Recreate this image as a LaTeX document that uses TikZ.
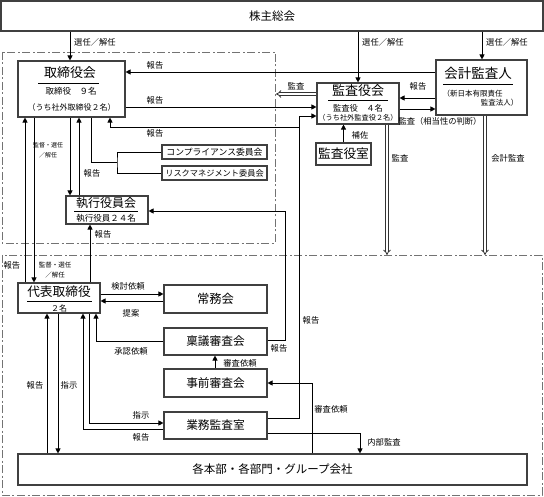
\documentclass[tikz,border=0pt]{standalone}
\usepackage{fontspec}
\setmainfont{Noto Sans CJK JP}
\usetikzlibrary{arrows.meta}
\newcommand\fsz[1]{\fontsize{#1}{#1}\selectfont}

\begin{document}
\begin{tikzpicture}[x=1pt,y=-1pt]
	\tikzset{box/.style={draw=black!75,line width=1.1pt,inner sep=0pt}};
	\tikzset{arr/.style={-{Triangle[length=5pt,width=5pt]},line width=0.7pt}};
	\tikzset{line/.style={line width=0.7pt}};
	\tikzset{dbl/.style={draw=black!80,double=white,double distance=1.8pt,line width=0.8pt,-{Implies}}};
	\tikzset{area/.style={draw=black!55,line width=0.8pt,dash pattern=on 8pt off 2.5pt on 2pt off 2.5pt}};
	\tikzset{lbl/.style={font=\fsz{8.3},inner sep=0pt}};
	\tikzset{two/.style={font={\fontsize{6.5}{10}\selectfont},align=center,inner sep=0pt}};
	
	\useasboundingbox (0,0) rectangle (544,497);
	\draw[area] (2,52) rectangle (275,243);
	\draw[area] (2,255) rectangle (542,495);
	
	% boxes
	\node[box,minimum width=542pt,minimum height=30pt,font=\fsz{11.5}] (soukai) at (272,16) {株主総会};
	
	\node[box,minimum width=107pt,minimum height=56pt] (tori) at (71.5,89) {};
	\node[font=\fsz{13}] (tori-t) at (70,73) {取締役会};
	\draw[line] (38,83) -- (99,83);
	\node[font=\fsz{8.5}] (tori-n) at (71,91) {取締役　９名};
	\node[font=\fsz{8}] (tori-s) at (71.5,107) {（うち社外取締役２名）};
	
	\node[box,minimum width=82pt,minimum height=41pt] (kansa) at (358,103.5) {};
	\node[font=\fsz{13}] (kansa-t) at (358,91) {監査役会};
	\draw[line] (328,100) -- (388,100);
	\node[font=\fsz{8.3}] (kansa-n) at (358,108) {監査役　４名};
	\node[font=\fsz{7.2}] (kansa-s) at (358,117.5) {（うち社外監査役２名）};
	
	\node[box,minimum width=91pt,minimum height=55pt] (kaikei) at (481.5,87.5) {};
	\node[font=\fsz{13.5}] (kaikei-t) at (478,73) {会計監査人};
	\draw[line] (443,84) -- (513,84);
	\node[font=\fsz{7.5},anchor=west] (kaikei-n) at (439,94) {（新日本有限責任};
	\node[font=\fsz{7.5},anchor=east] (kaikei-s) at (522,103) {監査法人）};
	
	\node[box,minimum width=55pt,minimum height=22pt,font=\fsz{12.7}] (kanshitsu) at (343.5,154) {監査役室};
	\node[box,minimum width=105pt,minimum height=14pt,font=\fsz{8.8}] (comp) at (214.5,152) {コンプライアンス委員会};
	\node[box,minimum width=105pt,minimum height=14pt,font=\fsz{8.2}] (risk) at (214.5,173) {リスクマネジメント委員会};
	
	\node[box,minimum width=82pt,minimum height=28pt] (shikko) at (107,210) {};
	\node[font=\fsz{12}] (shikko-t) at (106,203.5) {執行役員会};
	\draw[line] (74,211) -- (138,211);
	\node[font=\fsz{8.5}] (shikko-n) at (106,218) {執行役員２４名};
	
	\node[box,minimum width=82pt,minimum height=30pt] (daihyo) at (59,298) {};
	\node[font=\fsz{12.7}] (daihyo-t) at (59,292) {代表取締役};
	\draw[line] (27,301) -- (92,301);
	\node[font=\fsz{8}] (daihyo-n) at (59,308) {２名};
	
	\node[box,minimum width=103pt,minimum height=28pt,font=\fsz{12.3}] (jomu) at (215.5,299) {常務会};
	\node[box,minimum width=103pt,minimum height=27pt,font=\fsz{11.7}] (ringi) at (215.5,341.5) {稟議審査会};
	\node[box,minimum width=103pt,minimum height=28pt,font=\fsz{11.7}] (jizen) at (215.5,383) {事前審査会};
	\node[box,minimum width=103pt,minimum height=27pt,font=\fsz{11.7}] (gyomu) at (215.5,425.5) {業務監査室};
	\node[box,minimum width=509pt,minimum height=31pt,font=\fsz{11.5}] (kaku) at (272.5,469.5) {各本部・各部門・グループ会社};
	
	% shareholders
	\draw[arr] (soukai.south -| 70,0) -- (tori.north -| 70,0);
	\draw[arr] (soukai.south -| kansa.north) -- (kansa.north);
	\draw[arr] (soukai.south -| 482,0) -- (kaikei.north -| 482,0);
	\node[lbl,anchor=west] (l-sen1) at (74,42) {選任／解任};
	\node[lbl,anchor=west] (l-sen2) at (362,42) {選任／解任};
	\node[lbl,anchor=west] (l-sen3) at (486,42) {選任／解任};
	
	% board and auditors
	\draw[arr] (kaikei.west |- 0,72) -- (tori.east |- 0,72);
	\node[lbl] (l-hk1) at (155,65) {報告};
	\draw[arr] (tori.east |- 0,107) -- (kansa.west |- 0,107);
	\node[lbl] (l-hk2) at (155,100) {報告};
	\coordinate (jct) at (299,127);
	\draw[arr] (gyomu.east |- 0,418) -| (299,116) -- (kansa.west |- 0,116);
	\draw[arr] (jct) -| (tori.south -| 110,0);
	\node[lbl] (l-hk3) at (155,133) {報告};
	\node[lbl] (l-hk4) at (311,320) {報告};
	
	\coordinate (ue-end) at (276,94);
	\draw[dbl] (kansa.west |- 0,94) -- (ue-end);
	\node[lbl] (l-ks1) at (296,86) {監査};
	\draw[arr] (kaikei.west |- 0,98) -- (kansa.east |- 0,98);
	\node[lbl] (l-hk5) at (418,86) {報告};
	\draw[arr] (kansa.east |- 0,109) -- (kaikei.west |- 0,109);
	\node[lbl] (l-ks2) at (440,121) {監査（相当性の判断）};
	\draw[arr] (kanshitsu.north) -- (kansa.south -| kanshitsu.north);
	\node[lbl] (l-hosa) at (360,135) {補佐};
	
	\coordinate (ks-end) at (387,255);
	\coordinate (kk-end) at (485,255);
	\draw[dbl] (kansa.south -| ks-end) -- (ks-end);
	\node[lbl] (l-ks3) at (400,158) {監査};
	\draw[dbl] (kaikei.south -| kk-end) -- (kk-end);
	\node[lbl] (l-ks4) at (508,158) {会計監査};
	
	% committees
	\coordinate (br) at (117,162);
	\draw[line] (tori.south -| 91,0) |- (br);
	\draw[line] (comp.west) -| (br) |- (risk.west);
	
	% executive officers
	\draw[arr] (tori.south -| 70,0) -- (shikko.north -| 70,0);
	\node[two,font={\fontsize{6}{10}\selectfont}] (l-kt1) at (48,150) {監督・選任\\／解任};
	\draw[arr] (shikko.north -| 79,0) -- (tori.south -| 79,0);
	\node[lbl] (l-hk6) at (92,173) {報告};
	\draw[arr] (daihyo.north -| 90,0) -- (shikko.south -| 90,0);
	\node[lbl] (l-hk7) at (103,234) {報告};
	\draw[arr] (daihyo.north -| 25,0) -- (tori.south -| 25,0);
	\node[lbl] (l-hk8) at (12,265) {報告};
	\draw[arr] (tori.south -| 34,0) -- (daihyo.north -| 34,0);
	\node[two] (l-kt2) at (55,270) {監督・選任\\／解任};
	
	% representative director
	\draw[arr] (daihyo.east |- 0,294) -- (jomu.west |- 0,294);
	\node[lbl] (l-kent) at (128,286) {検討依頼};
	\draw[arr] (jomu.west |- 0,301) -- (daihyo.east |- 0,301);
	\node[lbl] (l-tei) at (131,313) {提案};
	\draw[arr] (ringi.west |- 0,341) -| (daihyo.south -| 96,0);
	\node[lbl] (l-shonin) at (131,351) {承認依頼};
	\draw[arr] (jizen.north -| 215,0) -- (ringi.south -| 215,0);
	\node[lbl] (l-shin1) at (240,363) {審査依頼};
	\draw[arr] (ringi.east |- 0,340) -| (285,211) -- (shikko.east |- 0,211);
	\node[lbl] (l-hk9) at (279,348) {報告};
	
	\draw[arr] (daihyo.south -| 89,0) |- (gyomu.west |- 0,423);
	\node[lbl] (l-shiji1) at (141,415) {指示};
	\draw[arr] (gyomu.west |- 0,429) -| (daihyo.south -| 83,0);
	\node[lbl] (l-hk10) at (141,437) {報告};
	\draw[arr] (daihyo.south -| 58,0) -- (kaku.north -| 58,0);
	\node[lbl] (l-shiji2) at (69,385) {指示};
	\draw[arr] (kaku.north -| 47,0) -- (daihyo.south -| 47,0);
	\node[lbl] (l-hk11) at (35,385) {報告};
	\draw[arr] (gyomu.east |- 0,433) -| (kaku.north -| 360,0);
	\node[lbl] (l-naibu) at (384,442) {内部監査};
	\draw[arr] (kaku.north -| 312,0) |- (jizen.east |- 0,383);
	\node[lbl] (l-shin2) at (331,409) {審査依頼};
\end{tikzpicture}
\end{document}
